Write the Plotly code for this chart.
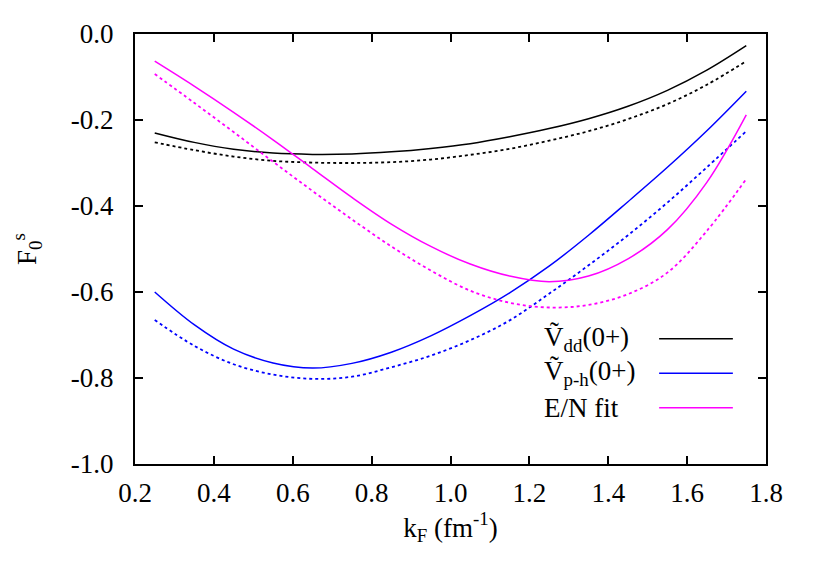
import plotly.graph_objects as go

KF = [0.25, 0.35, 0.45, 0.55, 0.65, 0.75, 0.85, 0.95, 1.05, 1.15,
      1.25, 1.35, 1.45, 1.55, 1.65, 1.75]

VDD_SOLID = [-0.230, -0.252, -0.268, -0.277, -0.280, -0.279, -0.274, -0.266,
             -0.255, -0.239, -0.220, -0.197, -0.168, -0.131, -0.084, -0.027]
VDD_DOT = [-0.252, -0.270, -0.285, -0.295, -0.299, -0.300, -0.298, -0.292,
           -0.281, -0.267, -0.248, -0.226, -0.198, -0.163, -0.118, -0.063]

VPH_SOLID = [-0.600, -0.676, -0.733, -0.765, -0.777, -0.766, -0.740, -0.702,
             -0.655, -0.602, -0.540, -0.468, -0.390, -0.310, -0.225, -0.133]
VPH_DOT = [-0.665, -0.725, -0.768, -0.792, -0.802, -0.797, -0.775, -0.748,
           -0.712, -0.666, -0.604, -0.538, -0.468, -0.392, -0.310, -0.226]

EN_SOLID = [-0.063, -0.121, -0.182, -0.246, -0.313, -0.380, -0.442, -0.494,
            -0.535, -0.563, -0.576, -0.563, -0.523, -0.455, -0.345, -0.188]
EN_DOT = [-0.093, -0.160, -0.228, -0.297, -0.365, -0.431, -0.494, -0.550,
          -0.597, -0.625, -0.636, -0.630, -0.605, -0.555, -0.458, -0.337]

X_TICKS = [0.2, 0.4, 0.6, 0.8, 1.0, 1.2, 1.4, 1.6, 1.8]
Y_TICKS = [0.0, -0.2, -0.4, -0.6, -0.8, -1.0]
Y_LABELS = ["0.0", "-0.2", "-0.4", "-0.6", "-0.8", "-1.0"]

LEGEND = ["\u1E7C<sub>dd</sub>(0+)", "\u1E7C<sub>p-h</sub>(0+)", "E/N fit"]
COLORS = ["#000000", "#0000ff", "#ff00ff"]

FONT = "Liberation Serif, Tinos, Times New Roman, DejaVu Serif, serif"
FS = 27

fig = go.Figure()
series = [(VDD_SOLID, VDD_DOT), (VPH_SOLID, VPH_DOT), (EN_SOLID, EN_DOT)]
for (solid, dot), col in zip(series, COLORS):
    fig.add_trace(go.Scatter(x=KF, y=solid, mode="lines", line_shape="spline",
                             line=dict(color=col, width=1.5), showlegend=False))
    fig.add_trace(go.Scatter(x=KF, y=dot, mode="lines", line_shape="spline",
                             line=dict(color=col, width=1.8, dash="dot"),
                             showlegend=False))

# gnuplot-style key: text on the left, line sample on the right
for i, (name, col) in enumerate(zip(LEGEND, COLORS)):
    yk = -0.709 - i * 0.080
    fig.add_annotation(x=1.232, y=yk, xref="x", yref="y", text=name,
                       showarrow=False, xanchor="left", yanchor="middle",
                       font=dict(family=FONT, size=FS, color="black"))
    fig.add_shape(type="line", x0=1.529, x1=1.716, y0=yk, y1=yk,
                  xref="x", yref="y", line=dict(color=col, width=1.5))

axis_common = dict(
    showgrid=False, zeroline=False, showline=True, linecolor="black",
    linewidth=2, mirror="ticks", ticks="inside", ticklen=8, tickwidth=1.5,
    tickcolor="black", tickfont=dict(family=FONT, size=FS, color="black"),
    automargin=False,
)

# the page body adds an 8px offset, so the margins are shifted by that much
fig.update_layout(
    width=830, height=581,
    plot_bgcolor="white", paper_bgcolor="white",
    margin=dict(l=127, r=72, t=26, b=125),
    font=dict(family=FONT, color="black"),
    xaxis=dict(range=[0.2, 1.8], tickvals=X_TICKS, tickformat=".1f",
               ticklabelstandoff=4,
               title=dict(text="k<sub>F</sub> (fm<sup>-1</sup>)",
                          font=dict(family=FONT, size=FS), standoff=8),
               **axis_common),
    yaxis=dict(range=[-1.0, 0.0], tickvals=Y_TICKS, ticktext=Y_LABELS,
               ticklabelstandoff=14,
               title=dict(text="F<sub>0</sub><sup>s</sup>",
                          font=dict(family=FONT, size=FS), standoff=36),
               **axis_common),
)

fig.write_html("out.html")
